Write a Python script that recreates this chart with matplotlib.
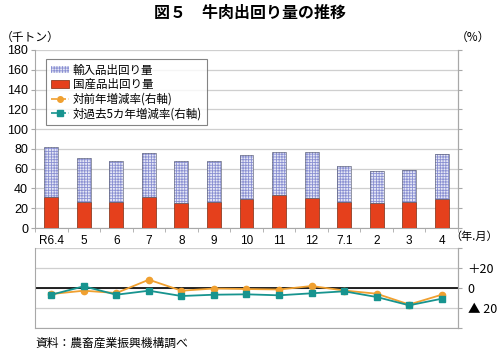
import matplotlib
matplotlib.use("Agg")
import matplotlib.pyplot as plt
import numpy as np
from matplotlib.patches import Patch
from matplotlib.lines import Line2D

plt.rcParams['font.family'] = ['Noto Sans CJK JP', 'DejaVu Sans']
plt.rcParams['hatch.linewidth'] = 0.6

categories = ["R6.4", "5", "6", "7", "8", "9", "10", "11", "12", "7.1", "2", "3", "4"]
domestic = [31.3, 26.6, 26.3, 31.3, 25.3, 26.3, 29.6, 33.4, 30.0, 26.6, 25.0, 26.3, 29.3]
imported = [50.3, 44.2, 41.4, 44.2, 42.1, 41.1, 43.9, 43.7, 46.5, 36.4, 32.6, 32.3, 45.8]
yoy = [-6.0, -2.7, -5.0, 8.3, -2.7, -0.5, -1.0, -1.5, 2.0, -2.5, -5.7, -16.5, -6.7]
vs5yr = [-6.7, 1.7, -6.7, -2.7, -8.0, -6.7, -6.3, -7.3, -5.3, -3.3, -9.0, -17.3, -10.7]

left_ticks = list(range(0, 181, 20))
right_ticks = [40, 20, 0, -20, -40]
right_labels = ["", "＋20", "0", "▲ 20", ""]

RED = '#e5401c'
HATCH = '#8a90d2'
ORANGE = '#f0a030'
TEAL = '#17948f'
GRID = '#cfcfcf'
SPINE = '#a8a8a8'
NUMFONT = ['Liberation Sans', 'DejaVu Sans']

fig = plt.figure(figsize=(5.0, 3.53), dpi=100)
ax = fig.add_axes([0.07, 0.354, 0.846, 0.5044])
ax2 = fig.add_axes([0.07, 0.0708, 0.846, 0.2266])

x = np.arange(len(categories))
w = 0.43
ax.bar(x, domestic, w, color=RED, edgecolor='#7a2a10', linewidth=0.5, zorder=3)
ax.bar(x, imported, w, bottom=domestic, facecolor='#e6e8f6', edgecolor=HATCH,
       hatch='++++++', linewidth=0, zorder=3)
ax.bar(x, imported, w, bottom=domestic, fill=False, edgecolor='#666a80',
       linewidth=0.5, zorder=4)

ax.set_xlim(-0.5, len(categories) - 0.5)
ax.set_ylim(0, 180)
ax.yaxis.grid(True, color=GRID, linewidth=0.9, zorder=0)
ax.set_axisbelow(True)
ax.set_xticks(x)
ax.set_xticklabels(categories, fontsize=8.5, family=NUMFONT)
ax.set_xticks(np.arange(-0.5, len(categories)), minor=True)
ax.spines['top'].set_visible(False)
for s in ['left', 'right', 'bottom']:
    ax.spines[s].set_color(SPINE)

ax_r = ax.twinx()
ax_r.set_ylim(0, 180)
ax_r.set_yticks(left_ticks)
ax_r.set_yticklabels([])
ax_r.tick_params(axis='y', length=3, color=SPINE)
for s in ['top', 'left', 'bottom']:
    ax_r.spines[s].set_visible(False)
ax_r.spines['right'].set_color(SPINE)

ax.set_yticks(left_ticks)
ax.set_yticklabels([str(t) for t in left_ticks], fontsize=9, family=NUMFONT)
ax.tick_params(axis='y', left=True, right=False, labelleft=True, length=3, color=SPINE, pad=2)
ax.tick_params(axis='x', which='major', length=0, pad=5)
ax.tick_params(axis='x', which='minor', length=3, color=SPINE, direction='out')

# lower panel
ax2.set_xlim(-0.5, len(categories) - 0.5)
ax2.set_ylim(-40, 40)
ax2.plot(x, yoy, color=ORANGE, marker='o', markersize=4.5, linewidth=1.3, zorder=3)
ax2.plot(x, vs5yr, color=TEAL, marker='s', markersize=5, linewidth=1.3, zorder=4)
ax2.axhline(0, color='black', linewidth=1.2, zorder=2)
ax2.spines['top'].set_visible(False)
for s in ['left', 'right', 'bottom']:
    ax2.spines[s].set_color(SPINE)

ax2_r = ax2.twinx()
ax2_r.set_ylim(-40, 40)
ax2_r.set_yticks(right_ticks)
ax2_r.set_yticklabels(right_labels, fontsize=9)
ax2_r.tick_params(axis='y', length=3, color=SPINE, pad=4)
for s in ['top', 'left', 'bottom']:
    ax2_r.spines[s].set_visible(False)
ax2_r.spines['right'].set_color(SPINE)

ax2.set_yticks(right_ticks)
ax2.yaxis.grid(True, color=GRID, linewidth=0.9, zorder=0)
ax2.set_axisbelow(True)
ax2.set_xticks([])
ax2.tick_params(axis='y', left=False, right=False, labelleft=False, labelright=False)

# legend
handles = [
    Patch(facecolor='#e6e8f6', edgecolor=HATCH, hatch='++++++', linewidth=0),
    Patch(facecolor=RED, edgecolor='#7a2a10', linewidth=0.5),
    Line2D([0], [0], color=ORANGE, linestyle='--', marker='o', markersize=4, linewidth=1.2),
    Line2D([0], [0], color=TEAL, linestyle='--', marker='s', markersize=4, linewidth=1.2),
]
labels = ["輸入品出回り量", "国産品出回り量", "対前年増減率(右軸)", "対過去5カ年増減率(右軸)"]
leg = ax.legend(handles, labels, loc='upper left', bbox_to_anchor=(0.027, 0.95),
                fontsize=8.3, frameon=True, fancybox=False, edgecolor='#666666',
                handlelength=1.6, handleheight=0.6, handletextpad=0.3,
                labelspacing=0.14, borderpad=0.4, borderaxespad=0.0)
leg.get_frame().set_linewidth(0.8)
leg.set_zorder(10)

fig.text(0.5, 0.963, "図５　牛肉出回り量の推移", ha='center', va='center',
         fontsize=11.5, fontweight='bold')
fig.text(0.002, 0.895, "（千トン）", ha='left', va='center', fontsize=8.5)
fig.text(0.98, 0.895, "（%）", ha='right', va='center', fontsize=8.5)
fig.text(0.996, 0.329, "（年.月）", ha='right', va='center', fontsize=8)
fig.text(0.07, 0.028, "資料：農畜産業振興機構調べ", ha='left', va='center', fontsize=8.5)

fig.savefig("out.png", dpi=100)
